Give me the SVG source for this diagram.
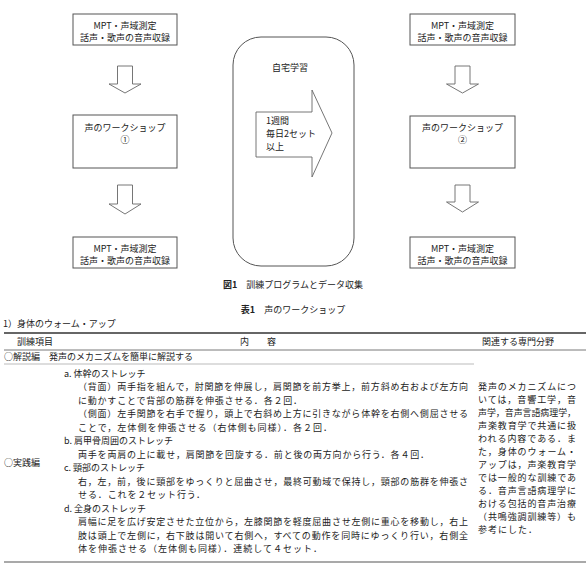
<svg xmlns="http://www.w3.org/2000/svg" width="586" height="572" viewBox="0 0 586 572">
<style>
.bx{fill:#fff;stroke:#555;stroke-width:1}
.ar{fill:#fff;stroke:#666;stroke-width:0.9}
text{font-family:"Noto Sans CJK JP","Noto Sans",sans-serif;fill:#222}
.t9{font-size:9px}
.c{text-anchor:middle}
.b{font-weight:bold}
</style>
<rect width="586" height="572" fill="#fff"/>
<g id="n_mpt1">
<rect class="bx" x="73" y="14" width="104" height="31"/>
<text class="t9 c" x="125" y="29">MPT・声域測定</text>
<text class="t9 c" x="125" y="41">話声・歌声の音声収録</text>
</g>
<g id="n_ws1">
<rect class="bx" x="73" y="115" width="104" height="53"/>
<text class="t9 c" x="125" y="131">声のワークショップ</text>
<text class="t9 c" x="125" y="143">①</text>
</g>
<g id="n_mpt2">
<rect class="bx" x="73" y="237" width="104" height="31"/>
<text class="t9 c" x="125" y="252">MPT・声域測定</text>
<text class="t9 c" x="125" y="264">話声・歌声の音声収録</text>
</g>
<g id="n_home">
<rect class="bx" x="233" y="37" width="121" height="229" rx="28"/>
<text class="t9 c" x="290" y="71">自宅学習</text>
</g>
<g id="n_mpt3">
<rect class="bx" x="410" y="14" width="105" height="31"/>
<text class="t9 c" x="462.5" y="29">MPT・声域測定</text>
<text class="t9 c" x="462.5" y="41">話声・歌声の音声収録</text>
</g>
<g id="n_ws2">
<rect class="bx" x="410" y="116" width="105" height="52"/>
<text class="t9 c" x="462.5" y="131">声のワークショップ</text>
<text class="t9 c" x="462.5" y="143">②</text>
</g>
<g id="n_mpt4">
<rect class="bx" x="410" y="237" width="105" height="31"/>
<text class="t9 c" x="462.5" y="252">MPT・声域測定</text>
<text class="t9 c" x="462.5" y="264">話声・歌声の音声収録</text>
</g>
<g id="connectors">
<polygon class="ar" points="117.5,66 132.5,66 132.5,84 141,84 125,93 109,84 117.5,84"/>
<polygon class="ar" points="117.5,185 132.5,185 132.5,204 141,204 125,214 109,204 117.5,204"/>
<polygon class="ar" points="455,66 470,66 470,84 478.5,84 462.5,93 446.5,84 455,84"/>
<polygon class="ar" points="455,185 470,185 470,202 478.5,202 462.5,212 446.5,202 455,202"/>
<polygon class="ar" points="256,112 312,112 312,90 332,133 312,177 312,157 256,157"/>
</g>
<g id="arrow_label">
<text class="t9" x="266" y="124">1週間</text>
<text class="t9" x="266" y="137">毎日2セット</text>
<text class="t9" x="266" y="150">以上</text>
</g>
<g id="captions">
<text class="t9 c" x="293" y="288"><tspan class="b">図1</tspan>　訓練プログラムとデータ収集</text>
<text class="t9 c" x="293" y="313"><tspan class="b">表1</tspan>　声のワークショップ</text>
</g>
<g id="table">
<text class="t9" x="3" y="327">1）身体のウォーム・アップ</text>
<line x1="4" y1="333" x2="586" y2="333" stroke="#333" stroke-width="1.5"/>
<text class="t9" x="17" y="345">訓練項目</text>
<text class="t9" x="240" y="345">内　　容</text>
<text class="t9" x="482" y="345">関連する専門分野</text>
<line x1="4" y1="350" x2="586" y2="350" stroke="#555" stroke-width="0.8"/>
<text class="t9" x="4" y="360">○解説編　発声のメカニズムを簡単に解説する</text>
<line x1="4" y1="364" x2="474" y2="364" stroke="#aaa" stroke-width="0.8"/>
<text class="t9" x="4" y="466">○実践編</text>
<g class="t9">
<text x="64" y="377">a.  体幹のストレッチ</text>
<text x="78" y="390" textLength="390" lengthAdjust="spacing">（背面）両手指を組んで，肘関節を伸展し，肩関節を前方挙上，前方斜め右および左方向</text>
<text x="78" y="404" textLength="224" lengthAdjust="spacing">に動かすことで背部の筋群を伸張させる．各２回．</text>
<text x="78" y="417" textLength="390" lengthAdjust="spacing">（側面）左手関節を右手で握り，頭上で右斜め上方に引きながら体幹を右側へ側屈させる</text>
<text x="78" y="431" textLength="254" lengthAdjust="spacing">ことで，左体側を伸張させる（右体側も同様）．各２回．</text>
<text x="64" y="444">b.  肩甲骨周囲のストレッチ</text>
<text x="78" y="458" textLength="351" lengthAdjust="spacing">両手を両肩の上に載せ，肩関節を回旋する．前と後の両方向から行う．各４回．</text>
<text x="64" y="471">c.  頸部のストレッチ</text>
<text x="78" y="485" textLength="390" lengthAdjust="spacing">右，左，前，後に頸部をゆっくりと屈曲させ，最終可動域で保持し，頸部の筋群を伸張さ</text>
<text x="78" y="498" textLength="127" lengthAdjust="spacing">せる．これを２セット行う．</text>
<text x="64" y="512">d.  全身のストレッチ</text>
<text x="78" y="525" textLength="390" lengthAdjust="spacing">肩幅に足を広げ安定させた立位から，左膝関節を軽度屈曲させ左側に重心を移動し，右上</text>
<text x="78" y="539" textLength="390" lengthAdjust="spacing">肢は頭上で左側に，右下肢は開いて右側へ，すべての動作を同時にゆっくり行い，右側全</text>
<text x="78" y="552" textLength="244" lengthAdjust="spacing">体を伸張させる（左体側も同様）．連続して４セット．</text>
</g>
<g class="t9">
<text x="478" y="390" textLength="98" lengthAdjust="spacing">発声のメカニズムにつ</text>
<text x="478" y="403" textLength="98" lengthAdjust="spacing">いては，音響工学，音</text>
<text x="478" y="416" textLength="98" lengthAdjust="spacingAndGlyphs">声学，音声言語病理学，</text>
<text x="478" y="429" textLength="98" lengthAdjust="spacing">声楽教育学で共通に扱</text>
<text x="478" y="442" textLength="98" lengthAdjust="spacing">われる内容である．ま</text>
<text x="478" y="455" textLength="98" lengthAdjust="spacing">た，身体のウォーム・</text>
<text x="478" y="468" textLength="98" lengthAdjust="spacing">アップは，声楽教育学</text>
<text x="478" y="481" textLength="98" lengthAdjust="spacing">では一般的な訓練であ</text>
<text x="478" y="494" textLength="98" lengthAdjust="spacing">る．音声言語病理学に</text>
<text x="478" y="507" textLength="98" lengthAdjust="spacing">おける包括的音声治療</text>
<text x="478" y="520" textLength="98" lengthAdjust="spacing">（共鳴強調訓練等）も</text>
<text x="478" y="533" textLength="59" lengthAdjust="spacing">参考にした．</text>
</g>
<line x1="4" y1="562" x2="586" y2="562" stroke="#555" stroke-width="1.2"/>
</g>
</svg>
